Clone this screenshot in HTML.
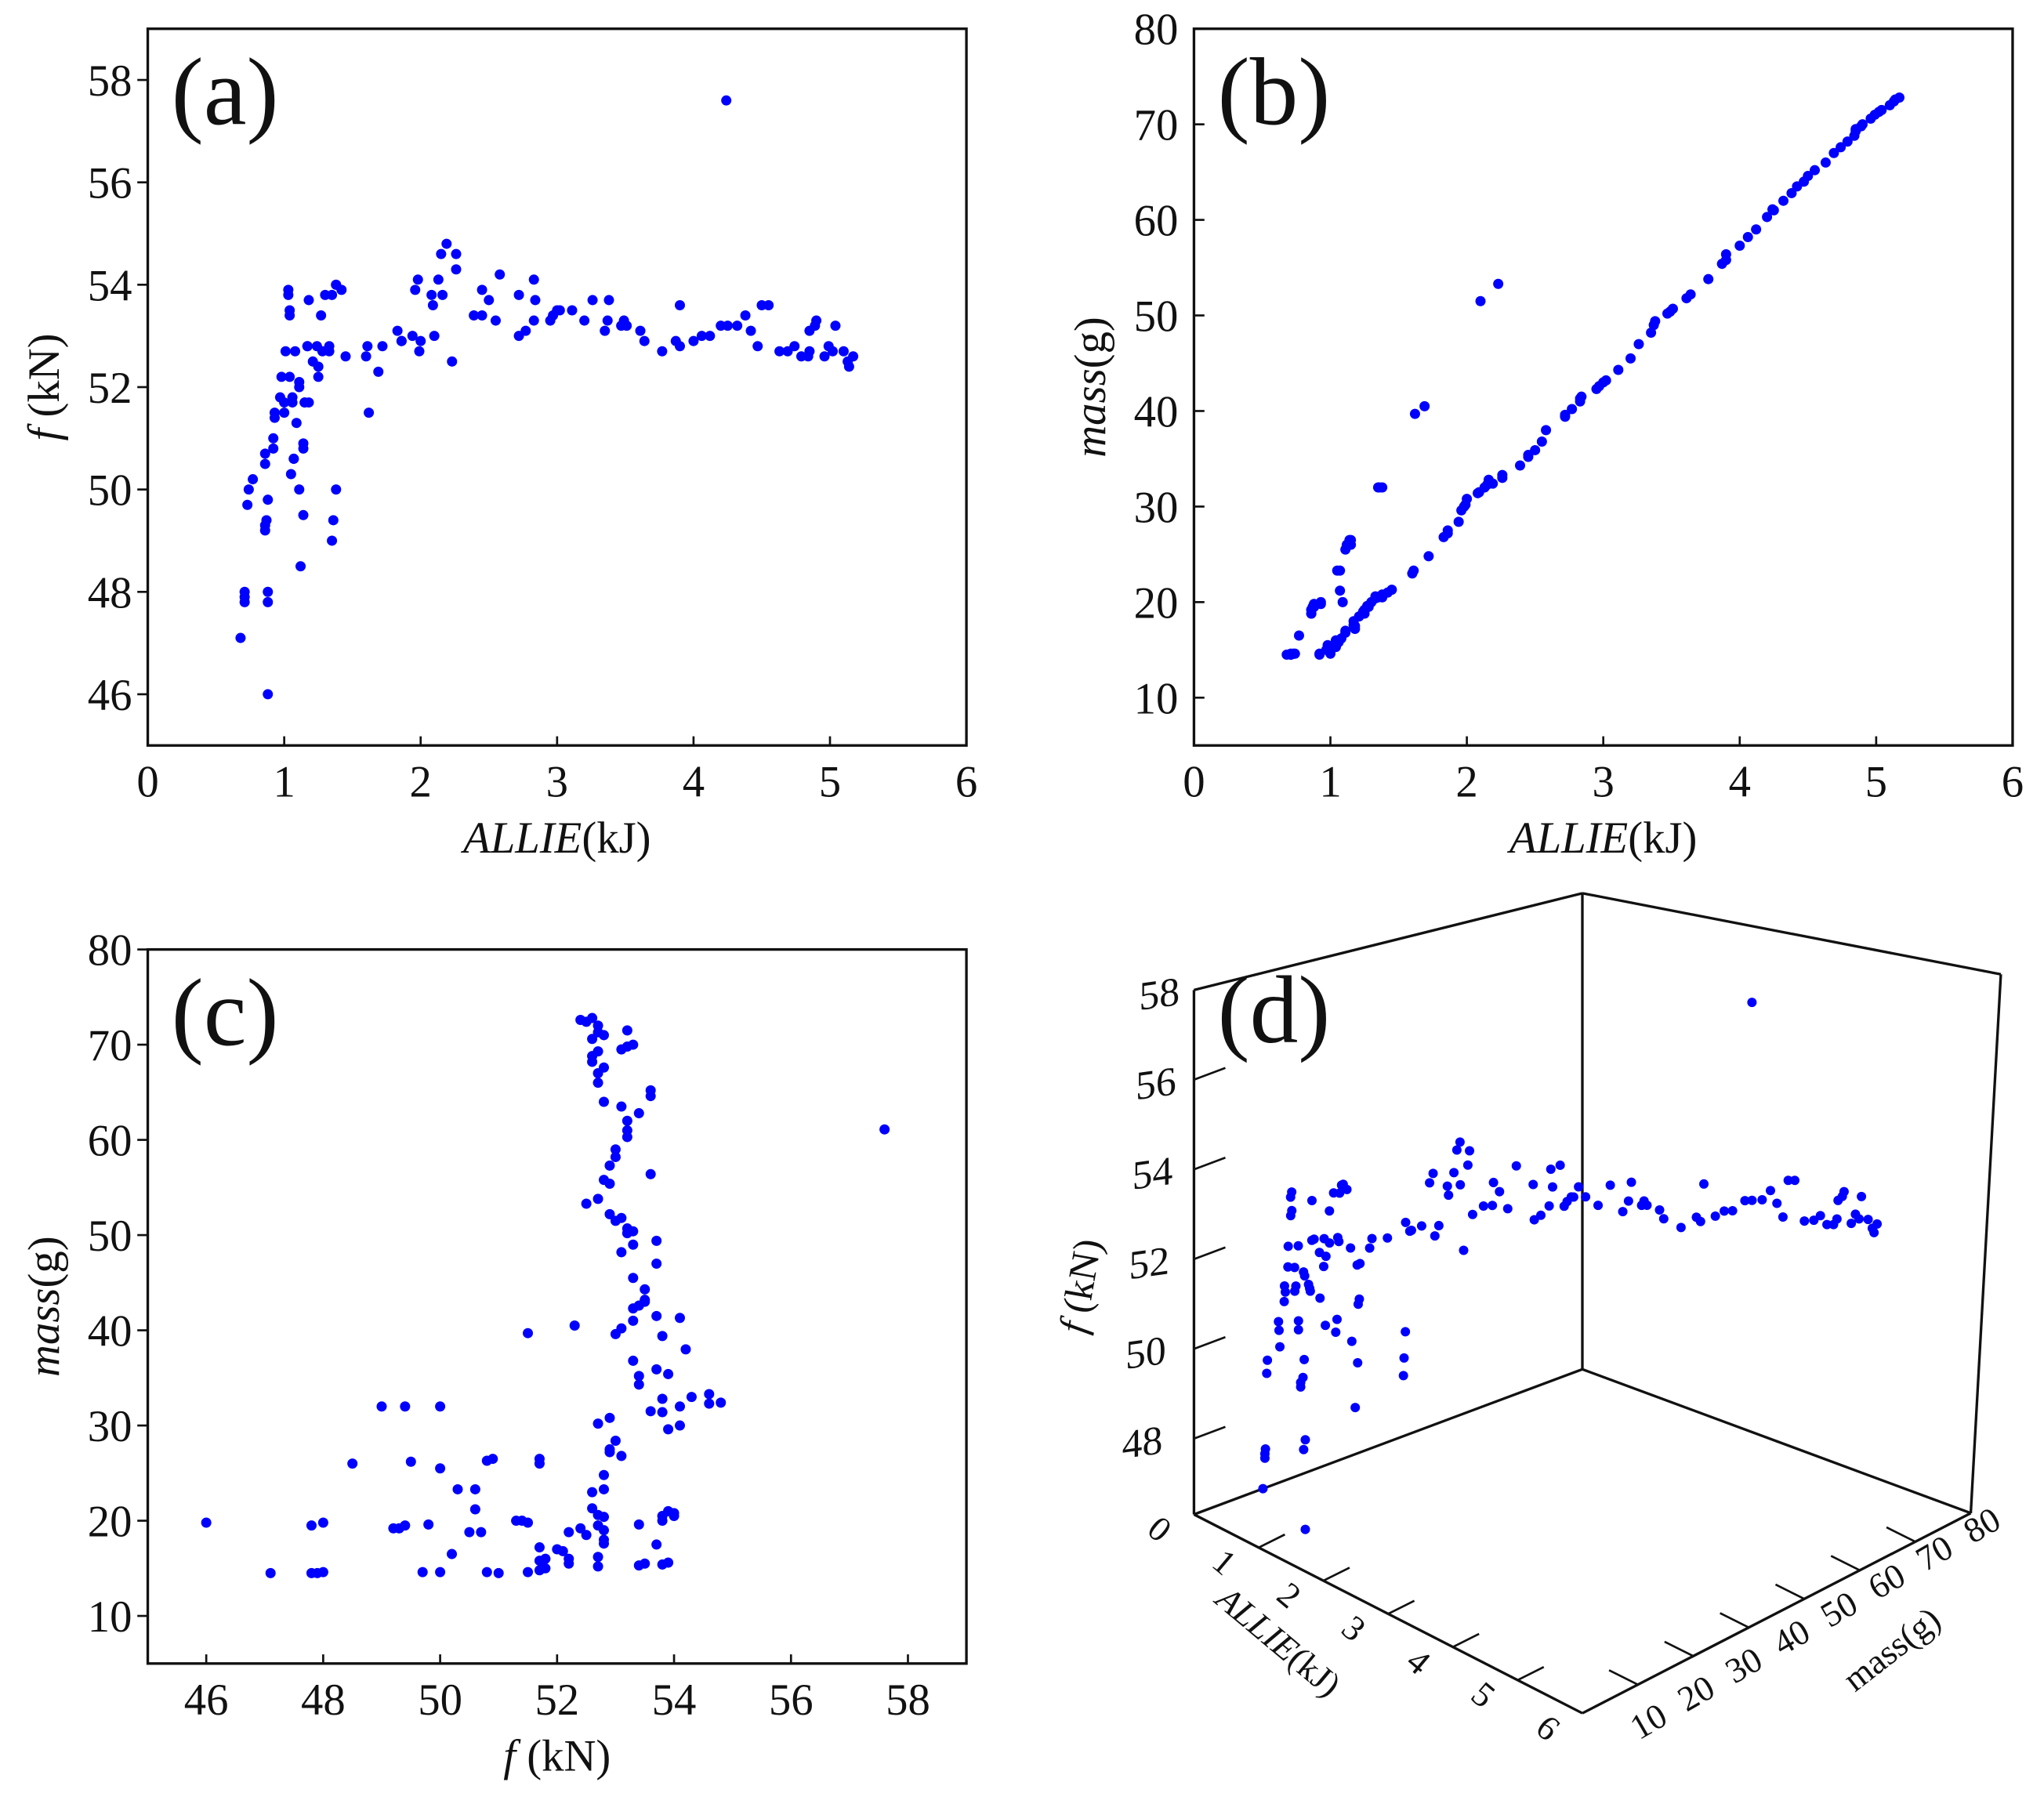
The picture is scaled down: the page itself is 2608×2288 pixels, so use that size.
<!DOCTYPE html>
<html><head><meta charset="utf-8"><style>
html,body{margin:0;padding:0;background:#fff;}
svg{display:block;}
text{font-family:"Liberation Serif",serif;fill:#111;}
</style></head><body>
<svg id="fig" width="2608" height="2288" viewBox="0 0 1563 1371" preserveAspectRatio="none" xmlns="http://www.w3.org/2000/svg"></svg>
<script>
const ALLIE=[0.68,0.71,0.71,0.71,0.73,0.74,0.77,0.86,0.86,0.87,0.88,0.86,0.86,0.88,0.88,0.88,0.92,0.92,0.93,0.93,0.97,0.98,1.00,1.00,1.01,1.03,1.03,1.04,1.04,1.04,1.05,1.06,1.06,1.07,1.07,1.08,1.09,1.11,1.11,1.11,1.12,1.14,1.14,1.14,1.15,1.15,1.18,1.18,1.17,1.17,1.21,1.24,1.25,1.25,1.27,1.28,1.30,1.33,1.33,1.35,1.36,1.35,1.38,1.38,1.38,1.42,1.45,1.60,1.61,1.62,1.69,1.72,1.83,1.86,1.86,1.94,1.96,1.98,1.99,2.00,2.08,2.09,2.10,2.13,2.15,2.16,2.19,2.23,2.26,2.26,2.39,2.45,2.45,2.50,2.55,2.58,2.72,2.72,2.77,2.83,2.83,2.84,2.95,2.97,3.00,3.02,3.11,3.20,3.26,3.35,3.37,3.38,3.47,3.51,3.49,3.61,3.64,3.77,3.87,3.90,3.90,4.00,4.06,4.12,4.20,4.25,4.24,4.32,4.38,4.42,4.47,4.50,4.55,4.63,4.69,4.74,4.79,4.84,4.85,4.85,4.89,4.90,4.96,4.99,5.02,5.04,5.10,5.13,5.14,5.17];
const FORCE=[47.1,47.9,47.8,48.0,49.7,50.0,50.2,49.2,49.3,49.4,49.8,50.5,50.7,47.8,48.0,46.0,50.8,51.0,51.4,51.5,51.8,52.2,51.7,51.5,52.7,53.8,53.9,53.5,53.4,52.2,50.3,51.7,51.8,50.6,50.6,52.7,51.3,50.0,52.1,52.0,48.5,50.8,50.9,49.5,51.7,51.7,53.7,51.7,52.8,52.8,52.5,52.8,52.2,52.4,53.4,52.7,53.8,52.8,52.7,49.0,49.4,53.8,54.0,54.0,50.0,53.9,52.6,52.6,52.8,51.5,52.3,52.8,53.1,52.9,52.9,53.0,53.9,54.1,52.7,52.9,53.8,53.6,53.0,54.1,54.6,53.8,54.8,52.5,54.3,54.6,53.4,53.9,53.4,53.7,53.3,54.2,53.8,53.0,53.1,54.1,53.3,53.7,53.3,53.4,53.5,53.5,53.5,53.3,53.7,53.1,53.3,53.7,53.2,53.2,53.3,53.1,52.9,52.7,52.9,53.6,52.8,52.9,53.0,53.0,53.2,53.2,57.6,53.2,53.4,53.1,52.8,53.6,53.6,52.7,52.7,52.8,52.6,52.6,52.7,53.1,53.2,53.3,52.6,52.8,52.7,53.2,52.7,52.5,52.4,52.6];
const MASS=[14.5,14.5,14.5,14.6,14.6,14.6,16.5,19.2,19.2,19.5,19.6,18.8,18.8,19.5,19.8,19.8,14.6,14.5,20.0,19.8,15.0,15.5,14.8,14.6,15.2,15.4,15.6,15.5,15.3,16.0,23.3,15.8,16.0,23.3,21.2,16.2,20.0,25.5,16.8,17.0,26.0,26.3,26.5,26.2,26.5,26.0,17.5,17.2,17.6,18.0,18.5,19.0,18.8,19.2,19.6,19.5,20.0,20.4,20.6,32.0,32.0,20.5,20.8,20.5,32.0,21.0,21.3,23.0,23.3,39.7,40.5,24.8,26.8,27.2,27.5,28.4,29.6,30.0,30.2,30.8,31.4,31.5,51.5,32.0,32.3,32.8,32.4,53.3,33.0,33.3,34.3,35.4,35.2,35.9,36.8,38.0,39.4,39.6,40.2,41.3,41.0,41.5,42.3,42.6,43.0,43.2,44.3,45.5,47.0,48.2,49.0,49.4,50.2,50.7,50.4,51.8,52.2,53.8,55.4,56.4,55.8,57.3,58.2,59.0,60.3,61.0,61.1,62.0,62.8,63.5,64.0,64.6,65.2,66.0,67.0,67.6,68.2,68.8,69.3,69.5,69.8,70.0,70.6,71.0,71.3,71.5,72.0,72.4,72.6,72.8];
const TICKS_ALLIE=[0,1,2,3,4,5,6];
const TICKS_F_A=[46,48,50,52,54,56,58];
const TICKS_MASS=[10,20,30,40,50,60,70,80];
const TICKS_F_C=[46,48,50,52,54,56,58];
const TICKS_F_D=[48,50,52,54,56,58];

const NS="http://www.w3.org/2000/svg";
const svg=document.getElementById('fig');
function mk(tag,attrs,parent){const e=document.createElementNS(NS,tag);for(const k in attrs)e.setAttribute(k,attrs[k]);(parent||svg).appendChild(e);return e;}
function txt(s,attrs,parent){const e=mk('text',attrs,parent);e.textContent=s;return e;}
const DOT="#0000ff",R=3.9;

function panel(id,box,xr,yr,xt,yt,yTickOut,xLab,yLab,xs,ys){
  const g=mk('g',{});
  
  
  const [L,T,Rr,B]=box;
  const sx=v=>L+(v-xr[0])/(xr[1]-xr[0])*(Rr-L);
  const sy=v=>B-(v-yr[0])/(yr[1]-yr[0])*(B-T);
  const fr=mk('rect',{x:L,y:T,width:Rr-L,height:B-T,fill:'none',stroke:'#111','stroke-width':2},g);
  
  
  for(const v of xt){const x=sx(v);
    mk('line',{x1:x,y1:B,x2:x,y2:B-7,stroke:'#111','stroke-width':1.6},g);
    const t=txt(String(v),{x:x,y:B+39,'font-size':34,'text-anchor':'middle'},g);
    
    }
  for(const v of yt){const y=sy(v);
    mk('line',{x1:L,y1:y,x2:yTickOut?L-8:L+8,y2:y,stroke:'#111','stroke-width':1.6},g);
    const t=txt(String(v),{x:L-12,y:y+12,'font-size':34,'text-anchor':'end'},g);
    
    }
  const xtEl=mk('text',{x:(L+Rr)/2,y:B+82,'font-size':34,'text-anchor':'middle'},g);
  xtEl.innerHTML=xLab;
  
  
  const cy=(T+B)/2;
  const ytEl=mk('text',{x:0,y:0,'font-size':34,'text-anchor':'middle',transform:`translate(${L-68},${cy}) rotate(-90)`},g);
  ytEl.innerHTML=yLab;
  
  
  const le=txt('('+id+')',{x:L+18,y:T+73,'font-size':74},g);
  
  
  for(let i=0;i<xs.length;i++){
    const c=mk('circle',{cx:sx(xs[i]),cy:sy(ys[i]),r:R,fill:DOT},g);
    
    
  }
}
const ALLIE_T='<tspan font-style="italic">ALLIE</tspan>(kJ)';
panel('a',[113,22,739,570],[0,6],[45,59],TICKS_ALLIE,TICKS_F_A,true,ALLIE_T,'<tspan font-style="italic">f</tspan> (kN)',ALLIE,FORCE);
panel('b',[913,22,1539,570],[0,6],[5,80],TICKS_ALLIE,TICKS_MASS,false,ALLIE_T,'<tspan font-style="italic">mass</tspan>(g)',ALLIE,MASS);
panel('c',[113,726,739,1272],[45,59],[5,80],TICKS_F_C,TICKS_MASS,true,'<tspan font-style="italic">f</tspan> (kN)','<tspan font-style="italic">mass</tspan>(g)',FORCE,MASS);

// Panel (d) 3D
const g3=mk('g',{});


const P={back:[1210,1047],left:[913,1158],front:[1210,1310],right:[1507,1157],topBack:[1210,683],topLeft:[913,757],topRight:[1530,745]};
const edges=[[P.topLeft,P.left],[P.topLeft,P.topBack],[P.topBack,P.back],[P.topBack,P.topRight],[P.topRight,P.right],[P.back,P.left],[P.back,P.right],[P.left,P.front],[P.front,P.right]];
for(const [a,b] of edges){const l=mk('line',{x1:a[0],y1:a[1],x2:b[0],y2:b[1],stroke:'#111','stroke-width':2},g3);
  
  }
const A_RANGE=[0,6],M_RANGE=[10,80],F_TOP=58,F_PER=34.3;
function proj(a,f,m){
  const ta=(a-A_RANGE[0])/(A_RANGE[1]-A_RANGE[0]);
  const tm=(m-M_RANGE[0])/(M_RANGE[1]-M_RANGE[0]);
  const x=P.left[0]+ta*(P.front[0]-P.left[0])+tm*(P.right[0]-P.front[0]);
  const yb=P.left[1]+ta*(P.front[1]-P.left[1])+tm*(P.right[1]-P.front[1]);
  const fFloor=F_TOP-(P.left[1]-P.topLeft[1])/F_PER;
  return [x,yb-(f-fFloor)*F_PER];
}
for(const v of TICKS_F_D){const y=P.topLeft[1]+(F_TOP-v)*F_PER;
  if(v<58) mk('line',{x1:913,y1:y,x2:937,y2:y-9,stroke:'#111','stroke-width':1.6},g3);
  const t=txt(String(v),{x:0,y:0,'font-size':31,'text-anchor':'end',transform:`translate(${902-(58-v)*1.3},${y+11}) skewY(-8)`},g3);
  
  }
for(const v of TICKS_ALLIE){const t0=v/6;
  const x=P.left[0]+t0*(P.front[0]-P.left[0]),y=P.left[1]+t0*(P.front[1]-P.left[1]);
  if(v>0&&v<6) mk('line',{x1:x,y1:y,x2:x+20,y2:y-10,stroke:'#111','stroke-width':1.6},g3);
  const t=txt(String(v),{x:0,y:0,'font-size':27,'text-anchor':'middle',transform:`translate(${x-32},${y+18}) rotate(40)`},g3);
  
  }
for(const v of TICKS_MASS){const t0=(v-10)/70;
  const x=P.front[0]+t0*(P.right[0]-P.front[0]),y=P.front[1]+t0*(P.right[1]-P.front[1]);
  if(v>10&&v<80) mk('line',{x1:x,y1:y,x2:x-22,y2:y-11,stroke:'#111','stroke-width':1.6},g3);
  const lx=1265+t0*(1520-1265),ly=1324+t0*(1174-1324);
  const t=txt(String(v),{x:0,y:0,'font-size':27,'text-anchor':'middle',transform:`translate(${lx},${ly}) rotate(-30)`},g3);
  
  }
const zt=mk('text',{x:0,y:0,'font-size':30,'text-anchor':'middle',transform:'translate(836,985) rotate(-80)'},g3);
zt.innerHTML='<tspan font-style="italic">f</tspan> (kN)';


const at=mk('text',{x:0,y:0,'font-size':27,'text-anchor':'middle',transform:'translate(972,1262) rotate(40)'},g3);
at.innerHTML='<tspan font-style="italic">ALLIE</tspan>(kJ)';


const mt=txt('mass(g)',{x:0,y:0,'font-size':27,'text-anchor':'middle',transform:'translate(1452,1268) rotate(-38)'},g3);


const ld=txt('(d)',{x:931,y:797,'font-size':74},g3);


for(let i=0;i<ALLIE.length;i++){const [x,y]=proj(ALLIE[i],FORCE[i],MASS[i]);
  const c=mk('circle',{cx:x,cy:y,r:R-0.3,fill:DOT},g3);
  
  }
</script>
</body></html>
